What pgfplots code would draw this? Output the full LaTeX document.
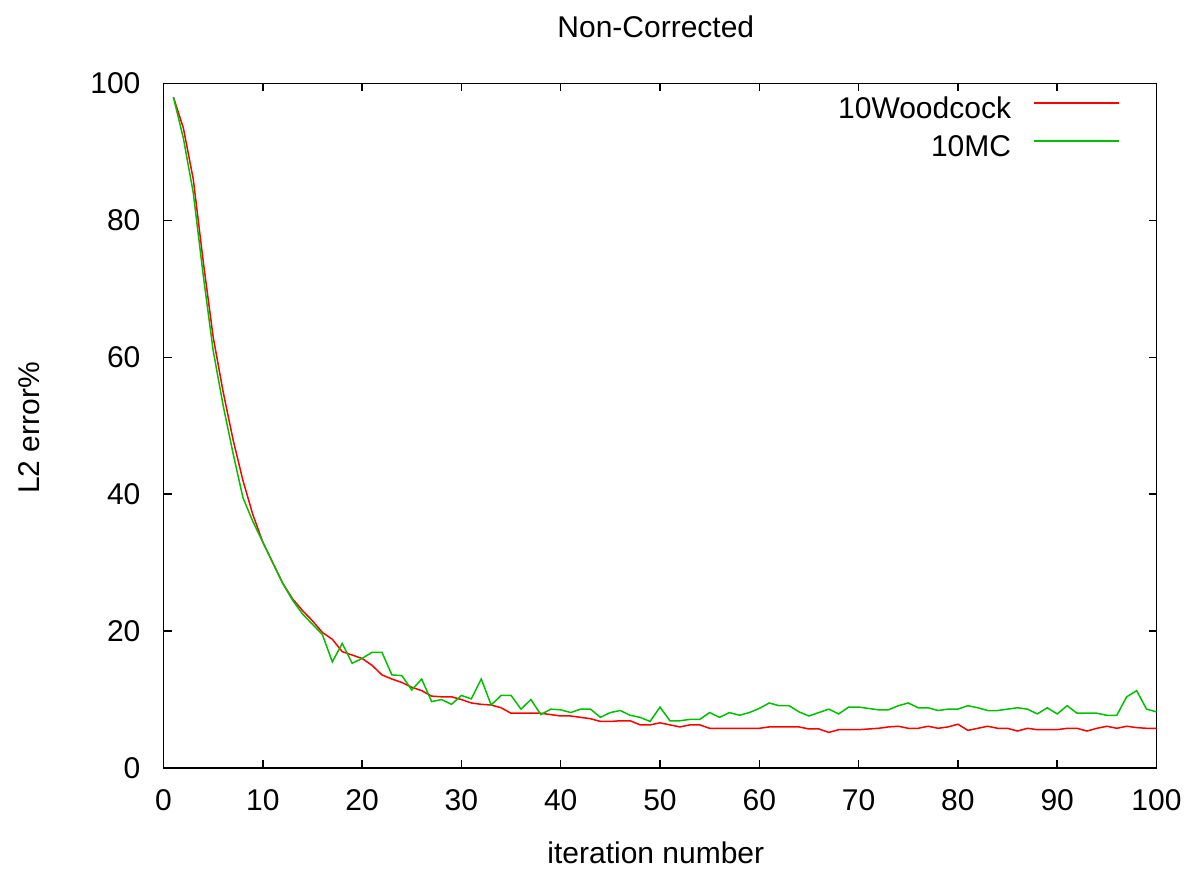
\documentclass[border=0pt]{standalone}
\usepackage{fontspec}
\setmainfont{Liberation Sans}
\usepackage{pgfplots}
\pgfplotsset{compat=1.18}
\definecolor{gpred}{RGB}{255,0,0}
\definecolor{gpgreen}{RGB}{0,192,0}
\begin{document}
\begin{tikzpicture}[font=\fontsize{15pt}{18pt}\selectfont]
\useasboundingbox (0,0) rectangle (594.5pt,434pt);
\begin{axis}[
  at={(81.75pt,50pt)}, anchor=south west,
  scale only axis, width=496.5pt, height=342.25pt,
  xmin=0, xmax=100, ymin=0, ymax=100,
  xtick={0,10,...,100}, ytick={0,20,...,100},
  tick align=inside, major tick length=4pt,
  axis line style={line width=0.75pt, black},
  every tick/.style={line width=0.75pt, black},
  /pgf/number format/assume math mode=true,
  every tick label/.append style={font=\fontsize{15pt}{18pt}\selectfont},
  xticklabel style={yshift=-7pt},
  yticklabel style={xshift=-8pt},
  title={Non-Corrected},
  every axis title shift=0pt,
  title style={at={(axis description cs:0.4958,1.0665)}, anchor=base},
  xlabel={iteration number},
  xlabel style={at={(axis description cs:0.4958,-0.1390)}, anchor=base},
  ylabel={L2 error\%},
  ylabel style={at={(axis description cs:-0.1244,0.4967)}, rotate=0, anchor=base},
  legend plot pos=right,
  legend cell align=right,
  legend image code/.code={\draw[#1] (0pt,0.3em) -- (42.5pt,0.3em);},
  legend style={draw=none, fill=none, at={(axis description cs:0.9632,0.9817)}, anchor=north east,
    inner sep=0pt, row sep=7pt, column sep=11pt, font=\fontsize{15pt}{18pt}\selectfont,
    nodes={inner sep=0pt}},
]
\addplot[gpred, line width=0.75pt] coordinates {
(1,98)(2,93.5)(3,86)(4,74)(5,63)(6,55)(7,48)(8,42)(9,37)(10,33)
(11,30)(12,27)(13,24.7)(14,23)(15,21.5)(16,19.8)(17,18.8)(18,17)(19,16.5)(20,16)
(21,15)(22,13.6)(23,13)(24,12.5)(25,11.8)(26,11.3)(27,10.5)(28,10.4)(29,10.4)(30,10)
(31,9.5)(32,9.3)(33,9.2)(34,8.8)(35,8.0)(36,8.0)(37,8.0)(38,8.0)(39,7.8)(40,7.6)
(41,7.6)(42,7.4)(43,7.2)(44,6.8)(45,6.8)(46,6.9)(47,6.9)(48,6.3)(49,6.3)(50,6.6)
(51,6.3)(52,6.0)(53,6.3)(54,6.3)(55,5.8)(56,5.8)(57,5.8)(58,5.8)(59,5.8)(60,5.8)
(61,6.0)(62,6.0)(63,6.0)(64,6.0)(65,5.7)(66,5.7)(67,5.2)(68,5.6)(69,5.6)(70,5.6)
(71,5.7)(72,5.8)(73,6.0)(74,6.1)(75,5.8)(76,5.8)(77,6.1)(78,5.8)(79,6.0)(80,6.4)
(81,5.5)(82,5.8)(83,6.1)(84,5.8)(85,5.8)(86,5.4)(87,5.8)(88,5.6)(89,5.6)(90,5.6)
(91,5.8)(92,5.8)(93,5.4)(94,5.8)(95,6.1)(96,5.8)(97,6.1)(98,5.9)(99,5.8)(100,5.8)
};
\addlegendentry{10Woodcock}
\addplot[gpgreen, line width=0.75pt] coordinates {
(1,98)(2,92)(3,84)(4,72)(5,61)(6,53)(7,46)(8,39.5)(9,36)(10,33)
(11,30)(12,27)(13,24.5)(14,22.5)(15,21)(16,19.5)(17,15.5)(18,18.2)(19,15.3)(20,16)
(21,16.9)(22,16.9)(23,13.6)(24,13.5)(25,11.4)(26,13)(27,9.7)(28,10)(29,9.3)(30,10.6)
(31,10.1)(32,13)(33,9.2)(34,10.6)(35,10.6)(36,8.6)(37,10)(38,7.8)(39,8.6)(40,8.5)
(41,8.1)(42,8.6)(43,8.6)(44,7.4)(45,8.1)(46,8.4)(47,7.7)(48,7.4)(49,6.8)(50,8.9)
(51,6.9)(52,6.9)(53,7.1)(54,7.1)(55,8.1)(56,7.4)(57,8.1)(58,7.7)(59,8.1)(60,8.7)
(61,9.5)(62,9.1)(63,9.1)(64,8.2)(65,7.6)(66,8.1)(67,8.6)(68,7.9)(69,8.9)(70,8.9)
(71,8.7)(72,8.5)(73,8.5)(74,9.1)(75,9.5)(76,8.8)(77,8.8)(78,8.4)(79,8.6)(80,8.6)
(81,9.1)(82,8.8)(83,8.4)(84,8.4)(85,8.6)(86,8.8)(87,8.6)(88,7.9)(89,8.8)(90,7.9)
(91,9.1)(92,8.0)(93,8.0)(94,8.0)(95,7.7)(96,7.7)(97,10.4)(98,11.3)(99,8.6)(100,8.2)
};
\addlegendentry{10MC}
\end{axis}
\end{tikzpicture}
\end{document}
